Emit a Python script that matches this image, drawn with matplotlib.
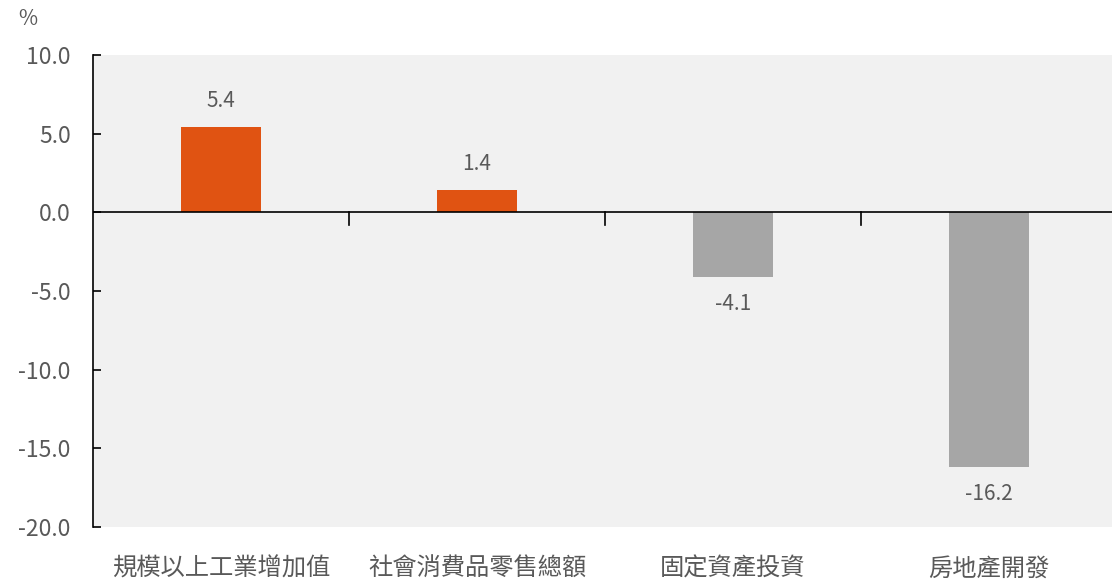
import matplotlib
matplotlib.use('Agg')
import matplotlib.pyplot as plt
import matplotlib.transforms as mtransforms
import numpy as np

plt.rcParams['font.family'] = ['Noto Sans CJK TC', 'DejaVu Sans']

categories = ['規模以上工業增加值', '社會消費品零售總額', '固定資產投資', '房地產開發']
values = [5.4, 1.4, -4.1, -16.2]
yticks = [10.0, 5.0, 0.0, -5.0, -10.0, -15.0, -20.0]

ORANGE = '#E05312'
GRAY = '#A6A6A6'
TEXT = '#595959'

W, H = 1112, 582
fig = plt.figure(figsize=(W / 100, H / 100), dpi=100)
# axes spans 4 categories of 256 px starting at x=93
ax = fig.add_axes([93 / W, 1 - 527 / H, 1024 / W, (527 - 55) / H])
ax.set_facecolor('#F1F1F1')

x = np.arange(len(categories))
colors = [ORANGE if v >= 0 else GRAY for v in values]
ax.bar(x, values, width=0.315, color=colors, zorder=2)

ax.set_xlim(-0.5, len(categories) - 0.5)
ax.set_ylim(-20, 10)

for s in ['top', 'right', 'bottom']:
    ax.spines[s].set_visible(False)
ax.spines['left'].set_color('black')
ax.spines['left'].set_linewidth(1.2)
ax.axhline(0, color='black', linewidth=1.2, zorder=3)

ax.set_yticks(yticks)
ax.set_yticklabels([f'{t:.1f}' for t in yticks], fontsize=16.5, color=TEXT)
ax.tick_params(axis='y', direction='in', length=6, width=1.2, pad=16)

# category separators on the zero line
for b in x[:-1] + 0.5:
    ax.plot([b, b], [0, -0.8], color='black', linewidth=1.2, zorder=3, clip_on=False)

ax.set_xticks([])
trans = mtransforms.blended_transform_factory(ax.transData, fig.transFigure)
for xi, name in zip(x, categories):
    ax.text(xi, 1 - 576 / H, name, transform=trans, ha='center', va='baseline',
            fontsize=17.5, color=TEXT)

for xi, v in zip(x, values):
    if v >= 0:
        ax.text(xi, v + 1.0, f'{v:.1f}', ha='center', va='bottom', fontsize=15, color=TEXT)
    else:
        ax.text(xi, v - 1.0, f'{v:.1f}', ha='center', va='top', fontsize=15, color=TEXT)

fig.text(28 / W, 1 - 19 / H, '%', ha='center', va='center', fontsize=15, color=TEXT)

fig.savefig('out.png', dpi=100)
